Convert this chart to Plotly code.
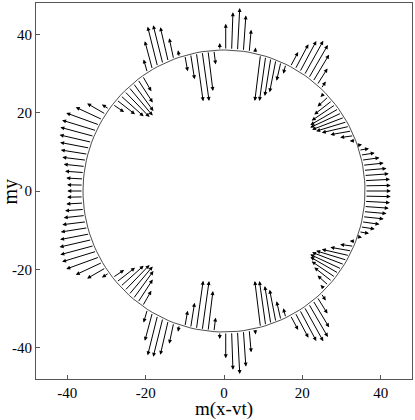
import numpy as np
import plotly.graph_objects as go

# radius of the ring the arrows start from
R = 36.0

# upper half: base angle (deg), arrow length, arrow direction (deg)
theta_up = [0, 2.1, 4.2, 6.3, 8.4, 10.5, 12.6, 14.7, 16.8, 18.9,
            21.0, 23.1, 25.2, 27.3, 29.4, 31.5, 33.6, 35.7, 37.8, 39.9, 42.1, 44.3,
            46.5, 48.7, 50.9, 53.1, 55.3, 57.5, 59.7, 61.9,
            64.0, 66.2, 68.4, 70.6, 72.8, 75.0,
            77.3, 79.7, 82.1, 84.5, 86.9, 89.3, 91.7,
            94.1, 96.5, 98.9, 101.3, 103.7, 106.1,
            108.5, 110.9, 113.3, 115.7, 118.1, 120.5, 122.9,
            125.3, 127.7, 130.1, 132.5, 134.9, 137.3, 139.7, 142.1,
            144.5, 147.0, 149.6, 152.1, 154.7, 157.2, 159.8, 162.3, 164.9, 167.4,
            170.0, 172.5, 175.1, 177.6, 180.0]
len_up = [6.6, 6.6, 6.5, 6.3, 5.9, 5.4, 4.6, 3.7, 2.6, 1.2,
          1.5, 3.5, 5.5, 7.2, 8.2, 8.8, 8.8, 8.3, 7.3, 5.8, 3.8, 1.6,
          2.2, 5.0, 8.0, 9.8, 10.0, 9.0, 7.2, 4.2,
          2.5, 4.9, 8.4, 9.8, 11.5, 11.9,
          1.5, 5.8, 9.2, 10.9, 9.7, 6.7, 1.8,
          3.6, 10.3, 12.7, 12.5, 6.5, 4.1,
          1.8, 5.5, 9.0, 10.2, 10.5, 7.5, 3.5,
          4.5, 7.0, 8.8, 9.5, 9.2, 8.0, 6.0, 3.5,
          2.2, 5.5, 7.5, 9.0, 9.2, 8.9, 8.4, 7.7, 7.0, 6.2,
          5.5, 4.9, 4.4, 4.1, 4.0]
dir_up = [0, 1, 3, 4, 5, 6, 8, 9, 10, 11,
          185, 188, 190, 193, 197, 201, 205, 210, 214, 218, 222, 226,
          57, 58, 59, 60, 61, 62, 62, 62,
          255, 257, 259, 261, 262, 263,
          84, 85, 86, 87, 88, 90, 91,
          277, 277, 278, 278, 279, 280,
          100, 102, 103, 104, 104, 105, 106,
          300, 303, 306, 310, 314, 318, 322, 326,
          148, 150, 155, 160, 163, 165, 167, 169, 171, 173,
          174, 176, 177, 179, 180]

# lower half (mirror image of the upper half)
theta_lo = [-2.1, -4.2, -6.3, -8.4, -10.5, -12.6, -14.7, -16.8, -18.9,
            -21.0, -23.1, -25.2, -27.3, -29.4, -31.5, -33.6, -35.7, -37.8, -39.9, -42.1, -44.3,
            -46.5, -48.7, -50.9, -53.1, -55.3, -57.5, -59.7, -61.9,
            -64.0, -66.2, -68.4, -70.6, -72.8, -75.0,
            -77.3, -79.7, -82.1, -84.5, -86.9, -89.3, -91.7,
            -94.1, -96.5, -98.9, -101.3, -103.7, -106.1,
            -108.5, -110.9, -113.3, -115.7, -118.1, -120.5, -122.9,
            -125.3, -127.7, -130.1, -132.5, -134.9, -137.3, -139.7, -142.1,
            -144.5, -147.0, -149.6, -152.1, -154.7, -157.2, -159.8, -162.3, -164.9, -167.4,
            -170.0, -172.5, -175.1, -177.6]
len_lo = [6.6, 6.5, 6.3, 5.9, 5.4, 4.6, 3.7, 2.6, 1.2,
          1.5, 3.5, 5.5, 7.2, 8.2, 8.8, 8.8, 8.3, 7.3, 5.8, 3.8, 1.6,
          2.2, 5.0, 8.0, 9.8, 10.0, 9.0, 7.2, 4.2,
          2.5, 4.9, 8.4, 9.8, 11.5, 11.9,
          1.5, 5.8, 9.2, 10.9, 9.7, 6.7, 1.8,
          3.6, 10.3, 12.7, 12.5, 6.5, 4.1,
          1.8, 5.5, 9.0, 10.2, 10.5, 7.5, 3.5,
          4.5, 7.0, 8.8, 9.5, 9.2, 8.0, 6.0, 3.5,
          2.2, 5.5, 7.5, 9.0, 9.2, 8.9, 8.4, 7.7, 7.0, 6.2,
          5.5, 4.9, 4.4, 4.1]
dir_lo = [-1, -3, -4, -5, -6, -8, -9, -10, -11,
          -185, -188, -190, -193, -197, -201, -205, -210, -214, -218, -222, -226,
          -57, -58, -59, -60, -61, -62, -62, -62,
          -255, -257, -259, -261, -262, -263,
          -84, -85, -86, -87, -88, -90, -91,
          -277, -277, -278, -278, -279, -280,
          -100, -102, -103, -104, -104, -105, -106,
          -300, -303, -306, -310, -314, -318, -322, -326,
          -148, -150, -155, -160, -163, -165, -167, -169, -171, -173,
          -174, -176, -177, -179]

tick_vals = [-40, -20, 0, 20, 40]
tick_text = ["-40", "-20", "0", "20", "40"]

theta = np.radians(np.array(theta_up + theta_lo))
length = np.array(len_up + len_lo)
phi = np.radians(np.array(dir_up + dir_lo))

x0 = R * np.cos(theta)
y0 = R * np.sin(theta)
x1 = x0 + length * np.cos(phi)
y1 = y0 + length * np.sin(phi)

# ring through the arrow bases
order = np.argsort(theta)
ring_x = np.append(x0[order], x0[order][0])
ring_y = np.append(y0[order], y0[order][0])

fig = go.Figure()
fig.add_trace(go.Scatter(x=ring_x, y=ring_y, mode="lines",
                         line=dict(color="black", width=0.7),
                         hoverinfo="skip", showlegend=False))

annotations = []
for xa, ya, xb, yb in zip(x0, y0, x1, y1):
    annotations.append(dict(
        x=xb, y=yb, ax=xa, ay=ya,
        xref="x", yref="y", axref="x", ayref="y",
        text="", showarrow=True,
        arrowhead=2, arrowsize=0.8, arrowwidth=1, arrowcolor="black",
    ))

annotations.append(dict(text="m(x-vt)", xref="paper", yref="paper",
                        x=0.5, y=-0.081, showarrow=False, yanchor="middle",
                        font=dict(family="Liberation Serif", size=19, color="black")))
annotations.append(dict(text="my", xref="paper", yref="paper",
                        x=-0.068, y=0.5, showarrow=False, textangle=-90,
                        xanchor="center", yanchor="middle",
                        font=dict(family="Liberation Serif", size=20, color="black")))

axis_style = dict(
    range=[-48, 48],
    tickvals=tick_vals, ticktext=tick_text,
    ticks="inside", ticklen=4, tickcolor="#555",
    showline=True, mirror=True, linecolor="#555", linewidth=1.2,
    showgrid=False, zeroline=False, automargin=False,
    tickfont=dict(family="Liberation Serif", size=15, color="black"),
)

fig.update_layout(
    width=415, height=420,
    margin=dict(l=36, r=3, t=3, b=41),
    plot_bgcolor="white", paper_bgcolor="white",
    xaxis=axis_style, yaxis=axis_style,
    annotations=annotations,
    showlegend=False,
)

# the page's default body margin would push the figure off the window
fig.write_html("out.html", config={"displayModeBar": False},
               post_script="document.body.style.margin='0px';")
